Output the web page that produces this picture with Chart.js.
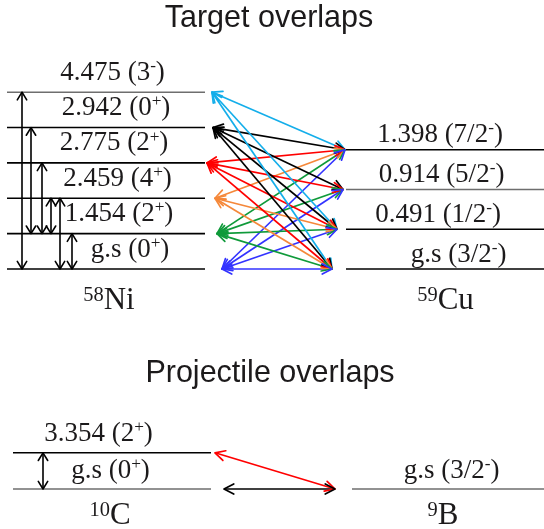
<!DOCTYPE html>
<html>
<head>
<meta charset="utf-8">
<script src="https://cdn.jsdelivr.net/npm/chart.js@4/dist/chart.umd.min.js"></script>
<style>
  html, body { margin: 0; padding: 0; background: #fff; }
  canvas { display: block; }
</style>
</head>
<body>
<canvas id="scheme" width="544" height="529"></canvas>
<script>
// ---- level data (excitation energy in MeV, spin-parity), ground state first ----
const niEnergies = ['g.s', '1.454', '2.459', '2.775', '2.942', '4.475'];
const niSpins    = ['0+', '2+', '4+', '2+', '0+', '3-'];
const cuEnergies = ['g.s', '0.491', '0.914', '1.398'];
const cuSpins    = ['3/2-', '1/2-', '5/2-', '7/2-'];
const cEnergies  = ['g.s', '3.354'];
const cSpins     = ['0+', '2+'];
const bEnergies  = ['g.s'];
const bSpins     = ['3/2-'];

// couplings between levels of the same nucleus: [upper level, lower level]
const niCouplings = [[5, 0], [4, 1], [3, 1], [2, 1], [2, 0], [1, 0]];
const cCouplings  = [[1, 0]];

// overlaps: 58Ni level -> list of 59Cu levels
const targetOverlaps = [
  [5, [3, 1, 0]],
  [4, [3, 2, 1, 0]],
  [3, [3, 2, 1, 0]],
  [2, [3, 1, 0]],
  [1, [3, 2, 1, 0]],
  [0, [3, 2, 1, 0]]
];
// overlaps: 10C level -> 9B level
const projectileOverlaps = [[1, 0], [0, 0]];

// ---- layout and styles (diagram units = canvas pixels) ----
const schemes = {
  ni: { x0: 7,   x1: 205, base: 269, pitch: 35.36, labelDy: -12.5, labelX: [130, 119, 117.5, 114, 116, 112.5],
        arrowX: [222, 217, 215, 207, 213, 212], couplingX: [22, 31, 42, 51, 60, 72],
        lineColor: ['#000', '#000', '#000', '#000', '#000', '#6e6e6e'] },
  cu: { x0: 346, x1: 544, base: 269, pitch: 39.75, labelDy: -7.5, labelX: [458.5, 438, 441.5, 440],
        arrowX: [332, 337, 343, 345], lineColor: ['#000', '#000', '#6e6e6e', '#000'] },
  c:  { x0: 13,  x1: 211, base: 489, pitch: 36.2, labelDy: -11.5, labelX: [110.5, 98.5],
        arrowX: [224, 215], couplingX: [43], lineColor: ['#6e6e6e', '#000'] },
  b:  { x0: 352, x1: 544, base: 489, pitch: 0, labelDy: -11, labelX: [451.5],
        arrowX: [335], lineColor: ['#6e6e6e'] }
};
const niColors = ['#3333ff', '#0f9a3a', '#f5883a', '#ff0000', '#000000', '#14aeea'];
const projectileColors = ['#000000', '#ff0000'];

const levelY = (s, i) => s.base - s.pitch * i;

// ---- datasets ----
const datasets = [];

function levelLines(s, n) {
  for (let i = 0; i < n; i++) {
    datasets.push({
      data: [{ x: s.x0, y: levelY(s, i) }, { x: s.x1, y: levelY(s, i) }],
      borderColor: s.lineColor[i], borderWidth: 1.6, order: 3
    });
  }
}
levelLines(schemes.ni, niEnergies.length);
levelLines(schemes.cu, cuEnergies.length);
levelLines(schemes.c, cEnergies.length);
levelLines(schemes.b, bEnergies.length);

function inner(s, pairs) {
  pairs.forEach(([a, b], k) => {
    datasets.push({
      data: [{ x: s.couplingX[k], y: levelY(s, a) }, { x: s.couplingX[k], y: levelY(s, b) }],
      borderColor: '#000', borderWidth: 1.6, arrow: { len: 9, half: 0.55 }, order: 2
    });
  });
}
inner(schemes.ni, niCouplings);
inner(schemes.c, cCouplings);

targetOverlaps.forEach(([n, cus]) => {
  cus.forEach(c => {
    datasets.push({
      data: [{ x: schemes.ni.arrowX[n], y: levelY(schemes.ni, n) },
             { x: schemes.cu.arrowX[c], y: levelY(schemes.cu, c) }],
      borderColor: niColors[n], borderWidth: 1.7, arrow: { len: 11, half: 0.48 }, order: 1
    });
  });
});
projectileOverlaps.forEach(([c, b]) => {
  datasets.push({
    data: [{ x: schemes.c.arrowX[c], y: levelY(schemes.c, c) },
           { x: schemes.b.arrowX[b], y: levelY(schemes.b, b) }],
    borderColor: projectileColors[c], borderWidth: 1.7, arrow: { len: 11, half: 0.48 }, order: 1
  });
});

// ---- plugins ----
const arrowHeads = {
  id: 'arrowHeads',
  afterDatasetsDraw(chart) {
    const ctx = chart.ctx;
    chart.data.datasets.forEach((ds, i) => {
      if (!ds.arrow) return;
      const pts = chart.getDatasetMeta(i).data;
      const a = pts[0], b = pts[1];
      ctx.save();
      ctx.strokeStyle = ds.borderColor;
      ctx.lineWidth = ds.borderWidth;
      ctx.lineCap = 'round';
      ctx.lineJoin = 'round';
      [[a, b], [b, a]].forEach(([tip, from]) => {
        const ang = Math.atan2(tip.y - from.y, tip.x - from.x);
        ctx.beginPath();
        ctx.moveTo(tip.x - ds.arrow.len * Math.cos(ang - ds.arrow.half), tip.y - ds.arrow.len * Math.sin(ang - ds.arrow.half));
        ctx.lineTo(tip.x, tip.y);
        ctx.lineTo(tip.x - ds.arrow.len * Math.cos(ang + ds.arrow.half), tip.y - ds.arrow.len * Math.sin(ang + ds.arrow.half));
        ctx.stroke();
      });
      ctx.restore();
    });
  }
};

const SERIF = '"Liberation Serif", "Times New Roman", serif';
const SANS = '"Liberation Sans", Arial, sans-serif';
const TEXT = '#1c1a1b';

function levelLabel(ctx, energy, spin, cx, baseline, size) {
  const body = energy + ' (' + spin.slice(0, -1);
  const sup = spin.slice(-1);
  const supSize = size * 0.64;
  ctx.font = size + 'px ' + SERIF;
  const w1 = ctx.measureText(body).width;
  const w3 = ctx.measureText(')').width;
  ctx.font = supSize + 'px ' + SERIF;
  const w2 = ctx.measureText(sup).width;
  let x = cx - (w1 + w2 + w3) / 2;
  ctx.textAlign = 'left';
  ctx.textBaseline = 'alphabetic';
  ctx.fillStyle = TEXT;
  ctx.font = size + 'px ' + SERIF;
  ctx.fillText(body, x, baseline);
  x += w1;
  ctx.font = supSize + 'px ' + SERIF;
  ctx.fillText(sup, x, baseline - size * 0.33);
  x += w2;
  ctx.font = size + 'px ' + SERIF;
  ctx.fillText(')', x, baseline);
}

function nuclideLabel(ctx, mass, sym, cx, baseline, size) {
  const supSize = size * 0.66;
  ctx.font = supSize + 'px ' + SERIF;
  const w1 = ctx.measureText(mass).width;
  ctx.font = size + 'px ' + SERIF;
  const w2 = ctx.measureText(sym).width;
  let x = cx - (w1 + w2) / 2;
  ctx.textAlign = 'left';
  ctx.fillStyle = TEXT;
  ctx.font = supSize + 'px ' + SERIF;
  ctx.fillText(mass, x, baseline - size * 0.27);
  ctx.font = size + 'px ' + SERIF;
  ctx.fillText(sym, x + w1, baseline);
}

const labels = {
  id: 'labels',
  afterDraw(chart) {
    const ctx = chart.ctx;
    const xs = chart.scales.x, ys = chart.scales.y;
    ctx.save();
    ctx.fillStyle = TEXT;
    ctx.textAlign = 'center';
    ctx.textBaseline = 'alphabetic';
    ctx.font = '30.5px ' + SANS;
    ctx.fillText('Target overlaps', xs.getPixelForValue(269), ys.getPixelForValue(27));
    ctx.fillText('Projectile overlaps', xs.getPixelForValue(270), ys.getPixelForValue(382));

    const put = (s, energies, spins) => {
      energies.forEach((e, i) => {
        levelLabel(ctx, e, spins[i], xs.getPixelForValue(s.labelX[i]),
                   ys.getPixelForValue(levelY(s, i)) + s.labelDy, 27);
      });
    };
    put(schemes.ni, niEnergies, niSpins);
    put(schemes.cu, cuEnergies, cuSpins);
    put(schemes.c, cEnergies, cSpins);
    put(schemes.b, bEnergies, bSpins);

    nuclideLabel(ctx, '58', 'Ni', xs.getPixelForValue(109), ys.getPixelForValue(309), 31);
    nuclideLabel(ctx, '59', 'Cu', xs.getPixelForValue(445.5), ys.getPixelForValue(309), 31);
    nuclideLabel(ctx, '10', 'C', xs.getPixelForValue(110), ys.getPixelForValue(524), 31);
    nuclideLabel(ctx, '9', 'B', xs.getPixelForValue(443), ys.getPixelForValue(524), 31);
    ctx.restore();
  }
};

new Chart(document.getElementById('scheme'), {
  type: 'line',
  data: { datasets },
  options: {
    responsive: false,
    animation: false,
    devicePixelRatio: 1,
    layout: { padding: 0 },
    elements: { point: { radius: 0 }, line: { tension: 0, fill: false } },
    datasets: { line: { clip: false, pointRadius: 0 } },
    scales: {
      x: { type: 'linear', min: 0, max: 544, display: false },
      y: { type: 'linear', min: 0, max: 529, reverse: true, display: false }
    },
    plugins: { legend: { display: false }, tooltip: { enabled: false }, title: { display: false } }
  },
  plugins: [arrowHeads, labels]
});
</script>
</body>
</html>
